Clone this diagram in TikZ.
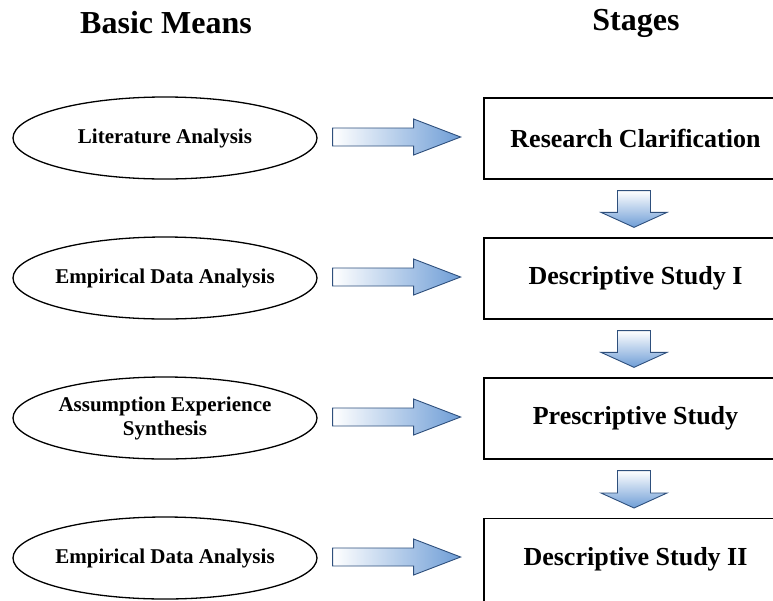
\documentclass[tikz,border=0pt]{standalone}
\usepackage{fontspec}
\setmainfont{Liberation Serif}
\usetikzlibrary{calc,shapes.geometric}
\definecolor{arrblue}{HTML}{6E9DD6}
\definecolor{arrline}{HTML}{2E4F7C}
\tikzset{
  means/.style={draw=black, line width=1.3pt, ellipse, minimum width=304pt, minimum height=82pt, inner sep=0pt},
  meanstext/.style={font=\fontsize{21}{24}\selectfont\bfseries, align=center, inner sep=0pt},
  stagebox/.style={draw=black, line width=1.3pt, rectangle, minimum width=303pt, minimum height=81pt, inner sep=0pt,
    font=\fontsize{26}{30}\selectfont\bfseries},
  header/.style={font=\fontsize{32}{36}\selectfont\bfseries, inner sep=0pt},
  blockarrow/.style={draw=arrline, line width=0.9pt, line join=miter},
}
\begin{document}
\begin{tikzpicture}[x=1pt,y=-1pt]
\useasboundingbox (0,0) rectangle (773,600);
\clip (0,0) rectangle (773,600);
% headers
\node[header] (h1) at (166,23) {Basic Means};
\node[header] (h2) at (636,23) {Stages};
% ellipses
\node[means] (e1) at (165,138) {};
\node[means] (e2) at (165,278) {};
\node[means] (e3) at (165,418) {};
\node[means] (e4) at (165,558) {};
\node[meanstext] (m1) at (e1) {Literature Analysis};
\node[meanstext] (m2) at (e2) {Empirical Data Analysis};
\node[meanstext] (m3) at (e3) {Assumption Experience\\Synthesis};
\node[meanstext] (m4) at (e4) {Empirical Data Analysis};
% boxes
\node[stagebox] (s1) at (635.5,138.5) {Research Clarification};
\node[stagebox] (s2) at (635.5,278.5) {Descriptive Study I};
\node[stagebox] (s3) at (635.5,418.5) {Prescriptive Study};
\node[stagebox, minimum height=100pt, anchor=north] (s4) at (635.5,518) {};
\node[font=\fontsize{26}{30}\selectfont\bfseries, inner sep=0pt] (s4t) at (635.5,559) {Descriptive Study II};
% horizontal block arrows
\foreach \i in {1,2,3,4}{
  \path (e\i.east) ++(15,-1) coordinate (t\i);
  \shade[blockarrow, left color=white, right color=arrblue]
    ($(t\i)+(0,-9)$) -- ($(t\i)+(81,-9)$) -- ($(t\i)+(81,-18)$) -- ($(t\i)+(128,0)$)
    -- ($(t\i)+(81,18)$) -- ($(t\i)+(81,9)$) -- ($(t\i)+(0,9)$) -- cycle;
}
% vertical block arrows
\foreach \a/\b in {1/2,2/3,3/4}{
  \path (s\a.south) ++(-1.5,11) coordinate (u\a);
  \path (s\b.north) ++(-1.5,-10) coordinate (v\a);
  \shade[blockarrow, top color=white, bottom color=arrblue]
    ($(u\a)+(-16.5,0)$) -- ($(u\a)+(16.5,0)$) -- ($(v\a)+(16.5,-15)$) -- ($(v\a)+(33,-15)$)
    -- (v\a) -- ($(v\a)+(-33,-15)$) -- ($(v\a)+(-16.5,-15)$) -- cycle;
}
\end{tikzpicture}
\end{document}
